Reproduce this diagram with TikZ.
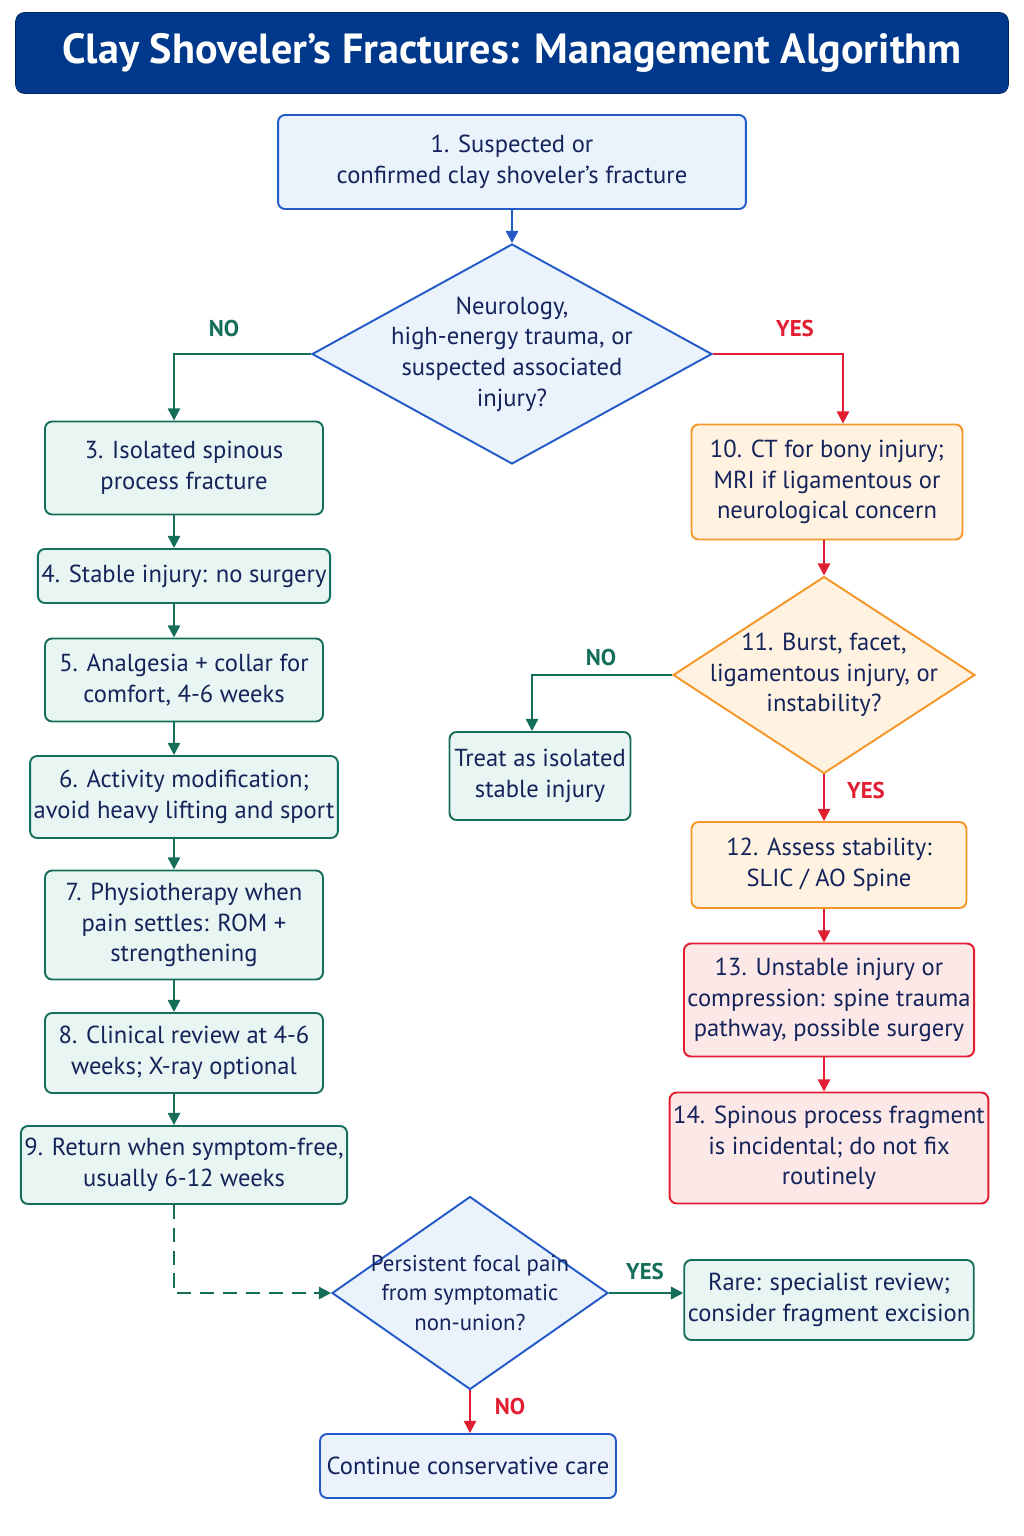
\documentclass[tikz,border=0pt]{standalone}
\usepackage{fontspec}
\setmainfont{PT Sans}
\usetikzlibrary{arrows.meta,positioning,shapes.geometric}
\definecolor{navy}{RGB}{0,56,140}
\definecolor{txt}{RGB}{20,35,90}
\definecolor{bblue}{RGB}{35,90,200}
\definecolor{fblue}{RGB}{234,242,252}
\definecolor{bgreen}{RGB}{20,110,90}
\definecolor{fgreen}{RGB}{232,245,242}
\definecolor{borange}{RGB}{245,150,40}
\definecolor{forange}{RGB}{255,242,225}
\definecolor{bred}{RGB}{225,30,50}
\definecolor{fred}{RGB}{253,232,232}
\tikzset{
  box/.style={rectangle,rounded corners=4pt,line width=1.1pt,align=center,text=txt,
    font=\fontsize{14}{17.5}\selectfont,inner sep=2pt},
  bluebox/.style={box,draw=bblue,fill=fblue},
  greenbox/.style={box,draw=bgreen,fill=fgreen,minimum width=5.56cm},
  orangebox/.style={box,draw=borange,fill=forange,minimum width=5.5cm},
  redbox/.style={box,draw=bred,fill=fred,minimum width=5.5cm},
  dia/.style={diamond,line width=1.1pt,inner sep=0pt},
  dtext/.style={align=center,text=txt,font=\fontsize{14}{17.5}\selectfont},
  arr/.style={line width=1.3pt,-{Triangle[length=7pt,width=7pt]}},
  lab/.style={font=\fontsize{13}{15}\selectfont\bfseries}
}
\begin{document}
\begin{tikzpicture}[x=0.02cm,y=-0.02cm]
	\useasboundingbox (0,0) rectangle (1024,1536);
	% title
	\node[rectangle,rounded corners=5pt,fill=navy,draw=navy!70!black,minimum width=19.86cm,minimum height=1.62cm,text=white,font=\fontsize{24}{28}\selectfont\bfseries] (title) at (512,53) {Clay Shoveler's Fractures: Management Algorithm};

	\node[bluebox,minimum width=9.36cm,minimum height=1.88cm] (n1) at (512,162) {1. Suspected or\\confirmed clay shoveler's fracture};
	\node[dia,draw=bblue,fill=fblue,minimum width=8cm,minimum height=4.4cm] (d2) at (512,354) {};
	\node[dtext] (d2t) at (d2) {Neurology,\\high-energy trauma, or\\suspected associated\\injury?};

	% left column
	\node[greenbox,minimum height=1.86cm] (n3) at (184,468) {3. Isolated spinous\\process fracture};
	\node[greenbox,minimum height=1.08cm] (n4) at (184,576) {4. Stable injury: no surgery};
	\node[greenbox,minimum height=1.66cm] (n5) at (184,680) {5. Analgesia + collar for\\comfort, 4-6 weeks};
	\node[greenbox,minimum height=1.64cm] (n6) at (184,797) {6. Activity modification;\\avoid heavy lifting and sport};
	\node[greenbox,minimum height=2.18cm] (n7) at (184,925) {7. Physiotherapy when\\pain settles: ROM +\\strengthening};
	\node[greenbox,minimum height=1.6cm] (n8) at (184,1053) {8. Clinical review at 4-6\\weeks; X-ray optional};
	\node[greenbox,minimum height=1.56cm] (n9) at (184,1165) {9. Return when symptom-free,\\usually 6-12 weeks};

	% right column
	\node[orangebox,minimum width=5.42cm,minimum height=2.3cm] (n10) at (827,482) {10. CT for bony injury;\\MRI if ligamentous or\\neurological concern};
	\node[dia,draw=borange,fill=forange,minimum width=6.04cm,minimum height=3.94cm] (d11) at (824,675) {};
	\node[dtext] (d11t) at (d11) {11. Burst, facet,\\ligamentous injury, or\\instability?};
	\node[greenbox,minimum width=3.62cm,minimum height=1.76cm] (treat) at (540,776) {Treat as isolated\\stable injury};
	\node[orangebox,minimum height=1.72cm] (n12) at (829,865) {12. Assess stability:\\SLIC / AO Spine};
	\node[redbox,minimum height=2.26cm] (n13) at (829,1000) {13. Unstable injury or\\compression: spine trauma\\pathway, possible surgery};
	\node[redbox,minimum height=2.22cm] (n14) at (829,1148) {14. Spinous process fragment\\is incidental; do not fix\\routinely};

	% bottom
	\node[dia,draw=bblue,fill=fblue,minimum width=5.52cm,minimum height=3.86cm] (d15) at (470,1293) {};
	\node[dtext,font=\fontsize{13}{17}\selectfont] (d15t) at (d15) {Persistent focal pain\\from symptomatic\\non-union?};
	\node[greenbox,minimum width=5.48cm,minimum height=1.6cm] (rare) at (829,1300) {Rare: specialist review;\\consider fragment excision};
	\node[bluebox,minimum width=5.92cm,minimum height=1.28cm] (cont) at (468,1466) {Continue conservative care};

	% connectors
	\draw[arr,bblue] (n1) -- (d2);
	\draw[arr,bgreen] (d2.west) -| (n3.north -| 174,0);
	\node[lab,text=bgreen] (no1) at (224,328) {NO};
	\draw[arr,bred] (d2.east) -| (n10.north -| 843,0);
	\node[lab,text=bred] (yes1) at (795,328) {YES};
	\foreach \a/\b in {n3/n4,n4/n5,n5/n6,n6/n7,n7/n8,n8/n9}
		\draw[arr,bgreen] (\a.south -| 174,0) -- (\b.north -| 174,0);
	\draw[arr,bred] (n10.south -| d11) -- (d11.north);
	\draw[arr,bgreen] (d11.west) -| (treat.north -| 532,0);
	\node[lab,text=bgreen] (no2) at (601,657) {NO};
	\draw[arr,bred] (d11.south) -- (n12.north -| d11);
	\node[lab,text=bred] (yes2) at (866,790) {YES};
	\draw[arr,bred] (n12.south -| d11) -- (n13.north -| d11);
	\draw[arr,bred] (n13.south -| d11) -- (n14.north -| d11);
	\draw[arr,bgreen,dashed,dash pattern=on 8pt off 5pt] (n9.south -| 174,0) |- (d15.west);
	\draw[arr,bgreen] (d15.east) -- (rare.west |- d15.east);
	\node[lab,text=bgreen] (yes3) at (645,1271) {YES};
	\draw[arr,bred] (d15.south) -- (cont.north -| d15);
	\node[lab,text=bred] (no3) at (510,1406) {NO};
\end{tikzpicture}
\end{document}
